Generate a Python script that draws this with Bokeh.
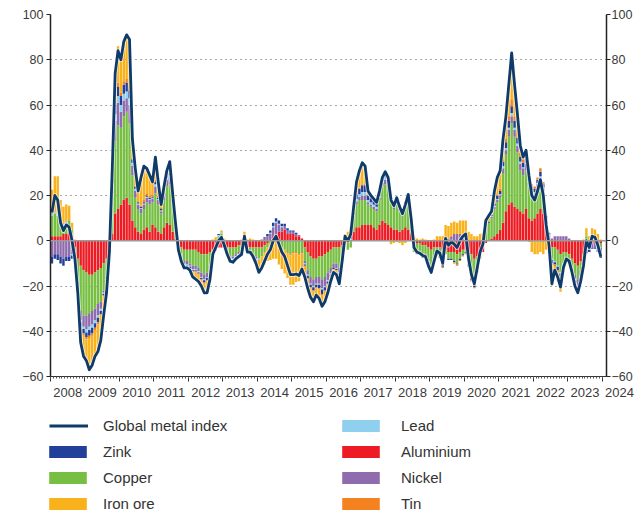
import numpy as np
from bokeh.plotting import figure
from bokeh.layouts import column
from bokeh.models import (ColumnDataSource, Range1d, LinearAxis, FixedTicker, Span,
                          Legend, LegendItem, Grid)
from bokeh.embed import file_html
from bokeh.resources import INLINE

FONT = "Liberation Sans"
START_YEAR = 2008

# Monthly data, Jan 2008 - Dec 2023 (one row per year)
global_metal_index = [
    12.5, 20, 18, 8, 4.5, 7, 6, 0, -8, -23, -45, -51,
    -53, -57, -55, -51, -49, -44, -33, -23, -5, 32, 74, 84,
    80, 88, 91, 89, 45, 32, 22, 28, 33, 32, 29, 26,
    37, 26, 16, 24, 31, 35, 21, 8, -4, -9, -12, -12,
    -13, -16, -17, -18, -20, -23, -23, -17, -6, -3, 0, 1.5,
    -2, -6, -9, -9.5, -8, -7, -6, 2, -5, -5, -7, -10,
    -14, -12, -9, -6, -4, 0, 2, -1.5, -5, -7, -11, -15,
    -15, -14.7, -15.4, -12.5, -16, -21, -25, -27, -24, -25.5, -29, -27,
    -23, -18, -14, -15, -19, -9, 2, 0, 3, 15, 26, 31,
    34.5, 33, 22, 20, 18.5, 17, 22, 28, 30.5, 28, 18, 15.5,
    19, 15, 12, 16, 20.5, 10, -3, -5, -5.5, -6.5, -7, -11,
    -14, -9, -4.5, -5.5, -10, 1, -2, -0.5, -1.5, -3, 0, 2,
    3, -8, -15, -19, -12, -5, -1.5, 9, 11, 13, 22, 28,
    31, 45, 55, 69, 83, 69, 56, 42, 37, 40, 29, 20,
    18, 22, 27, 20, 7, -2, -19, -13, -16, -20.5, -12, -8,
    -9, -14, -20, -23, -18, -11, 0, -3, 2, 1.5, -2, -7,
]

aluminium = [
    2, 2, 2, 2, 3, 3, 4, 2, -3, -8, -11, -13,
    -14, -15, -15, -14, -13, -12, -10, -8, -3, 3, 12, 14,
    16, 18, 19, 16, 9, 6, 4, 3, 5, 6, 4, 7,
    6, 4, 3, 6, 8, 7, 4, 1, -2, -3, -4, -4,
    -4, -4, -4, -5, -6, -6, -6, -5, -4, -4, -3, -3,
    -3, -3, -3, -3, -3, -2, -2, -2, -3, -3, -3, -3,
    -3, -3, -2, -1, 0, 2, 3, 4, 4, 5, 3, 3,
    3, 2, 2, 1, -3, -5, -7, -8, -8, -7, -7, -6,
    -5, -4, -3, -3, -3, -2, -1, -1, 0, 4, 6, 6,
    7, 7, 7, 7, 6, 5, 7, 9, 8, 7, 6, 5,
    5, 4, 5, 6, 5, 3, -1, -1, -1, -2, -2, -3,
    -4, -3, -3, -3, -4, -4, -5, -5, -5, -6, -5, -4,
    -4, -5, -6, -8, -7, -6, -5, -1, 0, 1, 2, 3,
    5, 8, 13, 16, 17, 15, 14, 13, 12, 14, 10, 9,
    10, 12, 14, 12, 5, 1, -3, -3, -4, -6, -5, -5,
    -6, -8, -10, -11, -9, -6, -3, -2, -1, -1, -1, -1,
]

copper = [
    9, 10, 9, 5, 4, 5, 5, 3, -3, -10, -20, -20,
    -19, -17, -16, -16, -15, -15, -12, -8, 0, 18, 32, 37,
    34, 37, 38, 36, 20, 13, 10, 9, 9, 11, 12, 10,
    15, 12, 9, 12, 16, 18, 12, 6, -1, -4, -5, -5,
    -6, -7, -7, -7, -8, -9, -8, -6, -2, 0, 2, 3,
    0, -2, -4, -4, -3, -3, -3, 0, -2, -2, -3, -4,
    -5, -4, -3, -2, -1, -1, 0, -2, -3, -4, -5, -6,
    -5, -5, -6, -5, -6, -8, -9, -9, -8, -9, -10, -10,
    -9, -8, -7, -7, -9, -6, 0, -3, -3, 6, 10, 12,
    11, 11, 9, 8, 8, 8, 11, 15, 17, 16, 11, 9,
    11, 9, 6, 8, 11, 5, -4, -4, -4, -4, -4, -5,
    -7, -5, -3, -4, -6, -2, -3, -3, -4, -4, -3, -2,
    -1, -5, -9, -10, -6, -2, 1, 7, 8, 9, 12, 14,
    14, 22, 25, 30, 35, 31, 25, 18, 17, 17, 14, 11,
    9, 10, 10, 8, 3, -3, -5, -6, -7, -8, -5, -3,
    -3, -4, -5, -6, -4, -2, 2, 0, 1, 1, 0, -2,
]

nickel = [
    -7, -6, -6, -7, -8, -7, -7, -6, -1.5, -2, -4, -5,
    -6, -6, -6, -5, -5, -3, -1, -1, -0.5, 3, 9, 10,
    7, 7, 6, 8, 4, 3, 2, 2, 2, 2, 2, 1.5,
    3, 2, 1, 2, 3, 3, 1, 0, -0.5, -1, -1.5, -1.5,
    -1, -1.5, -1.5, -1.5, -2, -2, -2, -1.5, -0.5, -0.5, 0, 0,
    0, -0.5, -1, -1, -1, -1, -1, 0, -0.5, -0.5, -1, -1,
    0, 0.5, 1, 2, 3, 4, 5, 3, 2, 1.5, 1.5, 1,
    1, 1, 0.5, 0, -1, -2, -3, -3, -3, -3, -4, -4,
    -3.5, -2.5, -2, -2, -2, -1, 0, 0, 0.5, 1, 1.5, 1.5,
    2, 2, 1, 1, 1, 1, 1, 1.5, 2, 2, 1, 1,
    2, 2, 2, 2, 3, 1.5, 0.5, 0, 0, -0.5, -0.5, -1,
    -1, -0.5, 0, 0, 0, 1, 1, 2, 3, 3, 3, 2,
    1, 0, -1, -1, -0.5, 0, 0, 0, 0, 0.5, 1, 1,
    1, 2, 2, 3, 3, 3, 3, 3, 3, 3, 2, 2,
    2, 3, 4, 3, 2, 2, 1, 2, 2, 2, 2, 2,
    1, 0, -2, -3, -3, -3, -2, -2, -2, -2, -3, -3,
]

lead = [
    1, 1, 1, 0.5, 0.5, 0.5, 0, -0.5, -0.5, -0.5, -1, -1,
    -1.5, -1.5, -1.5, -1.5, -1, -1, -0.5, -0.5, 0, 1.5, 3, 3,
    3, 3, 3, 3, 1.5, 1, 0.5, 0.5, 0.5, 0.5, 0.5, 0.5,
    1, 0.5, 0.5, 0.5, 1, 1, 0.5, 0, 0, -0.5, -0.5, -0.5,
    -0.5, -0.5, -0.5, -0.5, -0.5, -0.5, -0.5, -0.5, 0, 0, 0.5, 0.5,
    0, 0, -0.5, -0.5, -0.5, -0.5, 0, 0, 0, 0, 0, -0.5,
    -0.5, 0, 0, 0, 0.5, 0.5, 0.5, 0.5, 0.5, 0, 0, 0,
    0, 0, 0, 0, -0.5, -0.5, -0.5, -0.5, -0.5, -0.5, -0.5, -0.5,
    -0.5, -0.5, 0, -0.5, -0.5, 0, 0.5, 0, 0.5, 0.5, 1, 1,
    1.5, 1.5, 1, 1, 1, 1, 1, 1, 1, 1, 0.5, 0.5,
    0.5, 0.5, 0.5, 0.5, 0.5, 0, 0, -0.5, -0.5, -0.5, -0.5, -0.5,
    -0.5, -0.5, 0, 0, -0.5, 0, 0, 0, 0, 0, 0, 0,
    0, -0.5, -0.5, -0.5, 0, 0, 0, 0, 0, 0.5, 0.5, 0.5,
    0.5, 1, 1, 1, 1.5, 1, 1, 1, 0.5, 0.5, 0.5, 0.5,
    0.5, 0.5, 0.5, 0.5, 0, 0, -0.5, -0.5, -0.5, -0.5, -0.5, 0,
    0, -0.5, -0.5, -0.5, -0.5, 0, 0, 0, 0, 0, 0, -0.5,
]

zink = [
    -3, -2, -2.5, -3, -3, -2, -2, -1.5, -0.5, -1, -2, -2,
    -2, -2.5, -2.5, -2, -2, -1.5, -0.5, -0.5, 0, 2, 4, 4,
    4, 4, 4, 3.5, 1.5, 1, 0.5, 0.5, 0.5, 0.5, 0.5, 0.5,
    1, 0.5, 0.5, 0.5, 1, 1, 0.5, 0, 0, -0.5, -0.5, -0.5,
    -0.5, -0.5, -0.5, -0.5, -0.5, -1, -1, -0.5, 0, 0, 0.5, 0,
    0, 0, 0, -0.5, -0.5, -0.5, -0.5, 0, 0, -0.5, -0.5, -0.5,
    0, 0, 0.5, 1, 1, 1.5, 1.5, 1.5, 1, 1, 1, 0.5,
    0.5, 0.5, 0, 0, -0.5, -1, -1, -1.5, -1, -1.5, -2, -1.5,
    -1, -0.5, -0.5, -0.5, -0.5, 0, 0.5, 0.5, 1, 1, 2, 2.5,
    3, 3, 2, 2, 2, 1.5, 1.5, 1.5, 2, 2, 1, 1,
    1, 0.5, 0.5, 0.5, 1, 0.5, 0, -0.5, -0.5, -0.5, -0.5, -1,
    -1, -0.5, -0.5, -0.5, -1, 0, -0.5, -0.5, -0.5, -0.5, -0.5, -0.5,
    -0.5, -0.5, -1, -1, -0.5, 0, 0, 0.5, 0.5, 0.5, 1, 1.5,
    1.5, 2, 2.5, 3, 3, 3, 2.5, 2, 2, 2, 1.5, 1.5,
    1.5, 1.5, 2, 1.5, 1, 0.5, -1.5, -1, -1.5, -2, -1.5, -1,
    -0.5, -1, -1, -1, -1, -0.5, -0.5, -1, -0.5, -0.5, -1, -1,
]

tin = [
    0.5, 0.5, 0.5, 0.5, 0.5, 0.5, 0.5, 0, 0, -0.5, -1, -1,
    -1, -1, -1, -1, -1, -0.5, -0.5, 0, 0, 0.5, 2, 2,
    1.5, 1.5, 1.5, 1.5, 0.5, 0.5, 0.5, 0.5, 1, 1, 1, 1,
    1, 1, 0.5, 0.5, 1, 1, 0.5, 0, 0, 0, -0.5, -0.5,
    -0.5, -0.5, -0.5, -0.5, -0.5, -0.5, -0.5, -0.5, 0, 0, 0, 0,
    0, 0, 0, 0, 0, 0, 0, 0, 0, 0, 0, 0,
    0, 0, 0, 0, 0, 0, 0, 0, 0, 0, -0.5, -0.5,
    -0.5, -0.5, -0.5, -0.5, -0.5, -0.5, -0.5, -0.5, -0.5, -0.5, -0.5, -0.5,
    -0.5, -0.5, 0, 0, -0.5, 0, 0, 0, 0, 0, 0.5, 0.5,
    0.5, 0.5, 0.5, 0.5, 0.5, 0.5, 0.5, 0, 0.5, 0, 0, 0,
    0, 0, 0, 0, 0, 0, 0, 0, 0, 0, 0, 0,
    -0.5, 0, 0, 0, -0.5, 0, 0, 0, -0.5, -0.5, -0.5, -0.5,
    -0.5, -0.5, -0.5, -0.5, 0, 0, 0, 0, 0, 0, 0.5, 0.5,
    1, 1, 1.5, 2, 3, 2, 2, 2, 1.5, 2, 1.5, 1,
    1, 1, 1.5, 1, 0, -0.5, -1, -1, -1, -1, -0.5, -0.5,
    -0.5, -0.5, -0.5, -0.5, 0, 0, 0, 0, 0, 0, 0, 0,
]

iron_ore = [
    10, 15, 16, 10, 7, 7, 6, 3, 0.5, -1, -6, -9,
    -9.5, -14, -13, -11.5, -12, -11, -8.5, -5, -1.5, 4, 12, 16,
    14.5, 17.5, 19.5, 20, 8.5, 7.5, 4.5, 12.5, 15, 11, 9, 5.5,
    10, 6, 1.5, 2.5, 1, 4, 2.5, 1, -0.5, 0, 0, 0,
    -0.5, -2, -3, -3, -2.5, -4, -5, -3, 0.5, 1.5, 0, 1,
    1, -0.5, -0.5, -0.5, 0, 0, 0.5, 4, 0.5, 1, 0.5, -1,
    -5.5, -5.5, -5.5, -6, -7.5, -7, -8, -8.5, -9.5, -10.5, -11, -13,
    -14, -12.7, -11.4, -8, -4.5, -4, -4, -4.5, -3, -4, -5, -4.5,
    -3.5, -2, -1.5, -2, -3.5, 0, 2, 3.5, 4, 2.5, 5, 7.5,
    9.5, 8, 1.5, 0.5, 0, 0, 0, 0, 0, 0, -1.5, -1,
    -0.5, -1, -2, -1, 0, 0, 1.5, 1, 0.5, 1, 0.5, -0.5,
    0, 0.5, 2, 2, 2, 6, 5.5, 6, 5.5, 5, 6, 7,
    8, 4, 3, 2, 2, 3, 2.5, 2.5, 2.5, 1.5, 5, 7.5,
    8, 9, 10, 14, 20.5, 14, 8.5, 3, 1, 1.5, -0.5, -5,
    -6, -6, -5, -6, -4, -2, -9, -3.5, -4, -5, -1.5, -0.5,
    0, 0, -1, -1, -0.5, 0.5, 3.5, 2, 4.5, 4, 3, 0.5,
]

y_ticks = [-60, -40, -20, 0, 20, 40, 60, 80, 100]
year_ticks = list(range(2008, 2025))
year_labels = [str(y) for y in year_ticks]

# stacking order from the zero line outwards
stack = [
    ("Aluminium", aluminium, "#ed1c24"),
    ("Copper", copper, "#77bf43"),
    ("Nickel", nickel, "#8f6cae"),
    ("Lead", lead, "#8ed0ee"),
    ("Zink", zink, "#22409a"),
    ("Tin", tin, "#f58220"),
    ("Iron ore", iron_ore, "#f9b21b"),
]
LINE_COLOR = "#0f3b6b"

n = len(global_metal_index)
xs = [START_YEAR + (i + 0.5) / 12.0 for i in range(n)]

# ---------------- main chart ----------------
W = 637
FL, FR, FT = 50, 31, 14          # frame borders (px)
X0, X1 = 2008, 2024.125

p = figure(width=W, height=384,
           x_range=Range1d(X0, X1), y_range=Range1d(-60, 100),
           output_backend="svg", toolbar_location=None,
           x_axis_location=None, y_axis_location=None,
           min_border_left=FL, min_border_right=FR, min_border_top=FT,
           min_border_bottom=8)
p.grid.visible = False
p.outline_line_color = None

grid = Grid(dimension=1, ticker=FixedTicker(ticks=[t for t in y_ticks if t not in (-60, 0)]),
            grid_line_color="#555555", grid_line_dash="1 4", grid_line_width=1)
p.add_layout(grid)

pos = np.zeros(n)
neg = np.zeros(n)
bar_sources = {}
for name, vals, color in stack:
    v = np.array(vals, dtype=float)
    bottom = np.where(v >= 0, pos, neg + v)
    top = np.where(v >= 0, pos + v, neg)
    pos = pos + np.clip(v, 0, None)
    neg = neg + np.clip(v, None, 0)
    src = ColumnDataSource(dict(x=xs, bottom=bottom, top=top))
    bar_sources[name] = src
    p.vbar(x="x", width=0.85 / 12, bottom="bottom", top="top",
           source=src, fill_color=color, line_color=None)

p.add_layout(Span(location=0, dimension="width", line_color="#9a9a9a", line_width=1.5))

line_src = ColumnDataSource(dict(x=xs, y=global_metal_index))
p.line("x", "y", source=line_src, line_color="white", line_width=4.5, line_alpha=0.7,
       line_join="round")
p.line("x", "y", source=line_src, line_color=LINE_COLOR, line_width=2.8, line_join="round")


def style_y(ax):
    ax.axis_line_color = "#222222"
    ax.axis_line_width = 1.5
    ax.major_tick_out = 4
    ax.major_tick_in = 0
    ax.minor_tick_line_color = None
    ax.major_tick_line_color = "#222222"
    ax.major_label_text_font = FONT
    ax.major_label_text_font_size = "12.5px"
    ax.major_label_text_color = "#3a3a3a"


left = LinearAxis(ticker=FixedTicker(ticks=y_ticks))
style_y(left)
left.major_label_standoff = 3
p.add_layout(left, "left")

right = LinearAxis(ticker=FixedTicker(ticks=y_ticks))
style_y(right)
right.major_label_standoff = 1
p.add_layout(right, "right")

months = [START_YEAR + i / 12.0 for i in range(n + 1)]
xticks_ax = LinearAxis(ticker=FixedTicker(ticks=year_ticks, minor_ticks=months))
xticks_ax.axis_line_color = "#333333"
xticks_ax.axis_line_width = 1
xticks_ax.major_tick_out = 5
xticks_ax.major_tick_in = 0
xticks_ax.minor_tick_out = 2
xticks_ax.minor_tick_in = 0
xticks_ax.major_tick_line_color = "#333333"
xticks_ax.minor_tick_line_color = "#555555"
xticks_ax.major_label_text_font_size = "1px"
xticks_ax.major_label_text_color = None
xticks_ax.major_label_standoff = 0
p.add_layout(xticks_ax, "below")

# ---------------- year labels + legend (own strip, full width frame) ----------------
px_per_year = (W - FL - FR) / (X1 - X0)
f2 = figure(width=W, height=131,
            x_range=Range1d(X0 - FL / px_per_year, X1 + FR / px_per_year),
            y_range=Range1d(1000, 1001),
            output_backend="svg", toolbar_location=None,
            x_axis_location=None, y_axis_location=None,
            min_border_left=0, min_border_right=0, min_border_top=0, min_border_bottom=0)
f2.grid.visible = False
f2.outline_line_color = None
for fig in (p, f2):
    if "frame_align" in fig.properties():
        fig.frame_align = False

mid_years = [y + 0.5 for y in year_ticks]
xlab_ax = LinearAxis(ticker=FixedTicker(ticks=mid_years),
                     major_label_overrides={m: s for m, s in zip(mid_years, year_labels)})
xlab_ax.axis_line_color = None
xlab_ax.major_tick_line_color = None
xlab_ax.minor_tick_line_color = None
xlab_ax.major_label_standoff = 2
xlab_ax.major_label_text_font = FONT
xlab_ax.major_label_text_font_size = "13px"
xlab_ax.major_label_text_color = "#3a3a3a"
f2.add_layout(xlab_ax, "above")

# legend renderers share the chart's data, hidden in this strip
leg_line = f2.line("x", "y", source=line_src, line_color=LINE_COLOR, line_width=2.8,
                   visible=False)
leg_rend = {name: f2.vbar(x="x", width=0.85 / 12, bottom="bottom", top="top",
                          source=bar_sources[name], fill_color=color, line_color=None,
                          visible=False)
            for name, _, color in stack}

common = dict(orientation="vertical", glyph_height=15, label_height=18, spacing=8,
              padding=0, margin=0, border_line_color=None, background_fill_alpha=0,
              inactive_fill_alpha=0, label_text_font=FONT, label_text_font_size="15px",
              label_text_color="#333333")

leg_a = Legend(items=[LegendItem(label="Global metal index", renderers=[leg_line])],
               location=(49, 81), glyph_width=39, label_standoff=15, **common)
leg_b = Legend(items=[LegendItem(label=nm, renderers=[leg_rend[nm]])
                      for nm in ["Zink", "Copper", "Iron ore"]],
               location=(44, 3), glyph_width=47, label_standoff=12, **common)
leg_c = Legend(items=[LegendItem(label=nm, renderers=[leg_rend[nm]])
                      for nm in ["Lead", "Aluminium", "Nickel", "Tin"]],
               location=(337, 3), glyph_width=47, label_standoff=17, **common)
for lg in (leg_a, leg_b, leg_c):
    f2.add_layout(lg, "center")

layout = column(p, f2, spacing=0)
open("out.html", "w").write(file_html(layout, INLINE))
